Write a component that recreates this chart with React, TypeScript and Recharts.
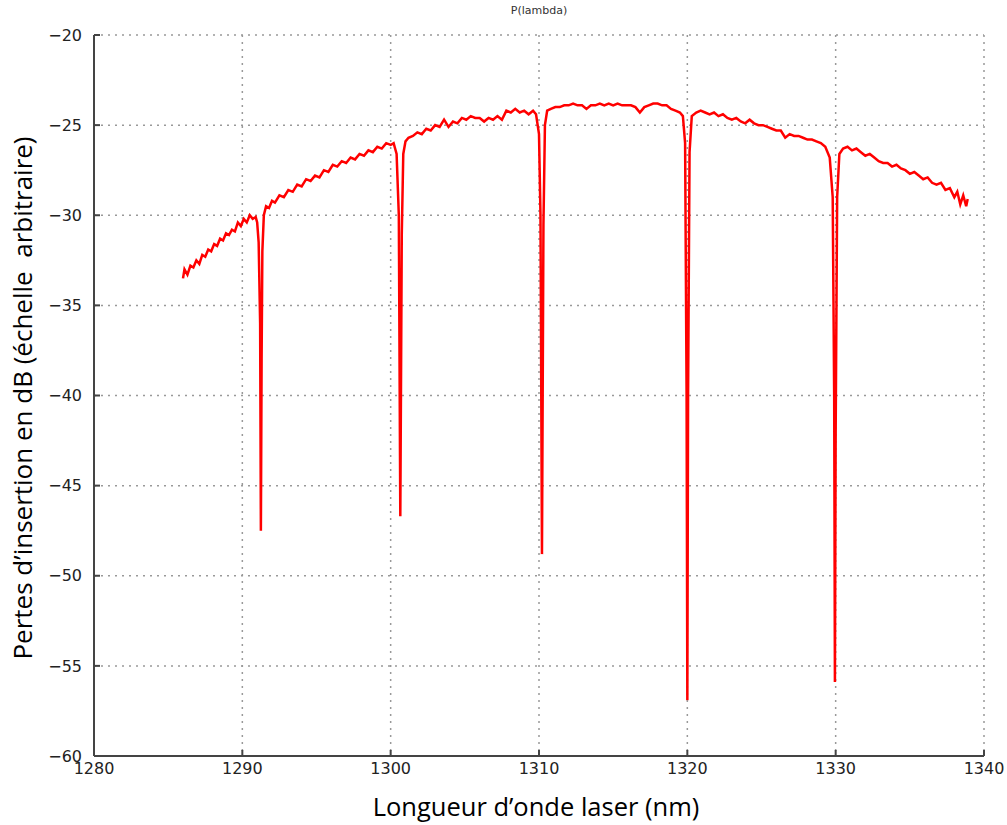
import { LineChart, Line, XAxis, YAxis, CartesianGrid } from 'recharts';

const wavelength = [
    1286.0, 1286.1, 1286.3, 1286.5, 1286.7, 1286.9, 1287.1, 1287.3, 1287.5, 1287.7,
    1287.9, 1288.1, 1288.3, 1288.5, 1288.7, 1288.9, 1289.1, 1289.3, 1289.5, 1289.7,
    1289.9, 1290.1, 1290.3, 1290.5, 1290.7, 1290.9, 1291.0, 1291.1, 1291.2, 1291.25,
    1291.3, 1291.35, 1291.45, 1291.6, 1291.8, 1292.0, 1292.2, 1292.5, 1292.8, 1293.1,
    1293.4, 1293.7, 1294.0, 1294.3, 1294.6, 1294.9, 1295.2, 1295.5, 1295.8, 1296.1,
    1296.4, 1296.7, 1297.0, 1297.3, 1297.6, 1297.9, 1298.2, 1298.5, 1298.8, 1299.1,
    1299.4, 1299.7, 1300.0, 1300.2, 1300.4, 1300.55, 1300.65, 1300.75, 1300.85, 1301.0,
    1301.2, 1301.5, 1301.8, 1302.1, 1302.4, 1302.7, 1303.0, 1303.3, 1303.6, 1303.9,
    1304.2, 1304.5, 1304.8, 1305.1, 1305.4, 1305.7, 1306.0, 1306.3, 1306.6, 1306.9,
    1307.2, 1307.5, 1307.8, 1308.1, 1308.4, 1308.7, 1309.0, 1309.3, 1309.6, 1309.8,
    1310.0, 1310.1, 1310.2, 1310.3, 1310.4, 1310.55, 1310.8, 1311.1, 1311.4, 1311.7,
    1312.0, 1312.3, 1312.6, 1312.9, 1313.2, 1313.5, 1313.8, 1314.1, 1314.4, 1314.7,
    1315.0, 1315.3, 1315.6, 1315.9, 1316.2, 1316.5, 1316.8, 1317.1, 1317.4, 1317.7,
    1318.0, 1318.3, 1318.6, 1318.9, 1319.2, 1319.5, 1319.7, 1319.85, 1319.95, 1320.0,
    1320.05, 1320.15, 1320.3, 1320.6, 1320.9, 1321.2, 1321.5, 1321.8, 1322.1, 1322.4,
    1322.7, 1323.0, 1323.3, 1323.6, 1323.9, 1324.2, 1324.5, 1324.8, 1325.1, 1325.4,
    1325.7, 1326.0, 1326.3, 1326.6, 1326.9, 1327.2, 1327.5, 1327.8, 1328.1, 1328.4,
    1328.7, 1329.0, 1329.3, 1329.6, 1329.8, 1329.9, 1329.95, 1330.0, 1330.1, 1330.25,
    1330.5, 1330.8, 1331.1, 1331.4, 1331.7, 1332.0, 1332.3, 1332.6, 1332.9, 1333.2,
    1333.5, 1333.8, 1334.1, 1334.4, 1334.7, 1335.0, 1335.3, 1335.6, 1335.9, 1336.2,
    1336.5, 1336.8, 1337.1, 1337.4, 1337.7, 1338.0, 1338.2, 1338.4, 1338.6, 1338.8,
    1338.9,
];

const power = [
    -33.5, -33.0, -33.3, -32.8, -32.9, -32.5, -32.7, -32.2, -32.3, -31.9,
    -32.0, -31.6, -31.7, -31.3, -31.4, -31.0, -31.1, -30.8, -30.9, -30.4,
    -30.6, -30.2, -30.4, -30.0, -30.2, -30.1, -30.4, -31.5, -36.0, -47.5,
    -38.0, -32.0, -30.0, -29.5, -29.6, -29.2, -29.3, -28.9, -29.0, -28.6,
    -28.7, -28.3, -28.4, -28.0, -28.1, -27.8, -27.9, -27.5, -27.6, -27.2,
    -27.3, -27.0, -27.1, -26.8, -26.9, -26.6, -26.7, -26.4, -26.5, -26.2,
    -26.3, -26.0, -26.1, -26.0, -26.6, -30.0, -46.7, -31.0, -26.6, -25.9,
    -25.7, -25.6, -25.4, -25.5, -25.2, -25.3, -25.0, -25.1, -24.7, -25.1,
    -24.8, -24.9, -24.6, -24.7, -24.5, -24.6, -24.6, -24.8, -24.6, -24.7,
    -24.5, -24.7, -24.2, -24.3, -24.1, -24.3, -24.2, -24.4, -24.2, -24.4,
    -25.5, -30.0, -48.8, -30.5, -25.0, -24.2, -24.1, -24.0, -24.0, -23.9,
    -23.9, -23.8, -23.9, -23.9, -24.1, -23.9, -23.9, -23.8, -23.9, -23.8,
    -23.9, -23.8, -23.9, -23.9, -23.9, -24.0, -24.3, -24.0, -23.9, -23.8,
    -23.8, -23.9, -23.9, -24.1, -24.2, -24.3, -24.5, -26.0, -40.0, -56.9,
    -40.0, -26.5, -24.5, -24.3, -24.2, -24.3, -24.4, -24.3, -24.5, -24.4,
    -24.6, -24.7, -24.6, -24.8, -24.9, -24.7, -24.9, -25.0, -25.0, -25.1,
    -25.2, -25.3, -25.3, -25.7, -25.5, -25.6, -25.6, -25.7, -25.8, -25.8,
    -25.9, -26.0, -26.2, -26.8, -29.0, -40.0, -55.9, -42.0, -29.0, -26.6,
    -26.3, -26.2, -26.4, -26.3, -26.5, -26.7, -26.6, -26.8, -27.0, -27.1,
    -27.1, -27.3, -27.2, -27.4, -27.5, -27.7, -27.6, -27.8, -28.0, -27.9,
    -28.2, -28.3, -28.2, -28.6, -28.5, -29.0, -28.7, -29.4, -28.9, -29.5,
    -29.1,
];

const xTicks = [1280, 1290, 1300, 1310, 1320, 1330, 1340];
const yTicks = [-60, -55, -50, -45, -40, -35, -30, -25, -20];

const chartData = wavelength.map((w, i) => ({ w, p: power[i] }));

const tickStyle = { fill: '#222', fontSize: 16, fontFamily: 'DejaVu Sans' };
const labelFont = "'Open Sans', 'Noto Sans', sans-serif";
const minus = (v: number) => String(v).replace('-', '\u2212');

export default function App() {
    return (
        <div style={{ position: 'absolute', left: 0, top: 0, width: 1007, height: 825, background: '#fff' }}>
            <div
                style={{
                    position: 'absolute',
                    left: 439,
                    width: 200,
                    top: 4,
                    textAlign: 'center',
                    fontFamily: 'DejaVu Sans',
                    fontSize: 11,
                    color: '#333',
                }}
            >
                P(lambda)
            </div>
            <LineChart
                width={1007}
                height={825}
                data={chartData}
                margin={{ top: 35, right: 23, left: 0, bottom: 0 }}
            >
                <CartesianGrid stroke="#999" strokeDasharray="2 5" strokeWidth={1.5} />
                <XAxis
                    dataKey="w"
                    type="number"
                    domain={[1280, 1340]}
                    ticks={xTicks}
                    height={69}
                    allowDataOverflow
                    stroke="#444"
                    strokeWidth={2}
                    tickSize={-6}
                    tickMargin={13}
                    tick={tickStyle}
                />
                <XAxis
                    xAxisId="top"
                    orientation="top"
                    type="number"
                    domain={[1280, 1340]}
                    ticks={xTicks}
                    height={0}
                    mirror
                    tick={false}
                    tickSize={6}
                    stroke="#444"
                    strokeWidth={2}
                />
                <YAxis
                    type="number"
                    domain={[-60, -20]}
                    ticks={yTicks}
                    width={94}
                    allowDataOverflow
                    stroke="#444"
                    strokeWidth={2}
                    tickSize={-6}
                    tickMargin={18}
                    tick={tickStyle}
                    tickFormatter={minus}
                />
                <YAxis
                    yAxisId="right"
                    orientation="right"
                    type="number"
                    domain={[-60, -20]}
                    ticks={yTicks}
                    width={0}
                    mirror
                    tick={false}
                    tickSize={6}
                    stroke="#444"
                    strokeWidth={2}
                />
                <Line
                    type="linear"
                    dataKey="p"
                    stroke="#ff0000"
                    strokeWidth={2.5}
                    dot={false}
                    isAnimationActive={false}
                />
            </LineChart>
            <div
                style={{
                    position: 'absolute',
                    left: 236,
                    width: 600,
                    top: 789,
                    textAlign: 'center',
                    fontFamily: labelFont,
                    fontSize: 25.5,
                    color: '#000',
                    lineHeight: '34px',
                }}
            >
                Longueur d’onde laser (nm)
            </div>
            <div
                style={{
                    position: 'absolute',
                    left: 22 - 350,
                    width: 700,
                    top: 398 - 17,
                    textAlign: 'center',
                    fontFamily: labelFont,
                    fontSize: 26,
                    color: '#000',
                    lineHeight: '34px',
                    whiteSpace: 'pre',
                    transform: 'rotate(-90deg)',
                }}
            >
                Pertes d’insertion en dB (échelle  arbitraire)
            </div>
        </div>
    );
}
